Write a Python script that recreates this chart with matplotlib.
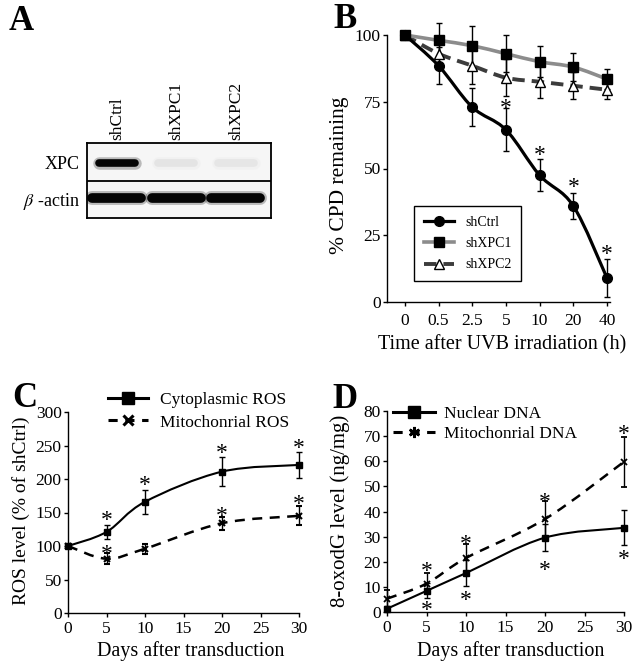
import numpy as np
import matplotlib
matplotlib.use('Agg')
import matplotlib.pyplot as plt
from matplotlib.path import Path
from matplotlib.patches import PathPatch
from matplotlib.lines import Line2D
from matplotlib.transforms import offset_copy

plt.rcParams['font.family'] = 'Liberation Serif'
plt.rcParams['mathtext.fontset'] = 'stix'

# panel A - western blot
lanes = ['shCtrl', 'shXPC1', 'shXPC2']
blot_rows = ['XPC', r'$\beta$ -actin']
xpc_band = [1.0, 0.06, 0.05]
actin_band = [1.0, 1.0, 1.0]

# panel B - CPD repair
uv_time = ['0', '0.5', '2.5', '5', '10', '20', '40']
cpd_ctrl = [100, 88.5, 73, 64.5, 47.5, 36, 9]
cpd_ctrl_err = [0, 7, 7.2, 8, 6, 4.8, 7]
cpd_xpc1 = [100, 98, 96, 93, 90, 88, 83.5]
cpd_xpc1_err = [0, 6.6, 7.3, 7, 5.7, 5.4, 3.8]
cpd_xpc2 = [100, 93, 88.5, 84, 82.5, 81, 79.5]
cpd_xpc2_err = [0, 5, 7, 7, 6, 5, 3.5]
cpd_star_idx = [3, 4, 5, 6]
cpd_star_y = [74.5, 57, 45, 20]

# panel C - ROS
days = [0, 5, 10, 20, 30]
ros_cyto = [100, 121, 166, 211, 221]
ros_cyto_err = [0, 11, 18, 22, 19.5]
ros_mito = [100, 81, 96, 134, 145]
ros_mito_err = [0, 8, 7.5, 9.5, 14]
ros_star_cyto = [None, 146, 199, 246, 254]
ros_star_mito = [None, 96, None, 152, 171]

# panel D - 8-oxodG
oxo_nuc = [1.3, 8.4, 15.5, 29.6, 33.5]
oxo_nuc_err = [1, 3, 5.3, 5.3, 7]
oxo_mito = [5.3, 11.3, 21.5, 37, 59.8]
oxo_mito_err = [3.5, 4.3, 5.5, 7, 10]
oxo_star_nuc = [None, 2.7, 6.9, 18.6, 23]
oxo_star_mito = [None, 18.3, 29.2, 46, 72.7]

W, H = 641, 667
fig = plt.figure(figsize=(W / 100, H / 100), dpi=100)


def px_axes(x0, y0, x1, y1):
    return fig.add_axes([x0 / W, 1 - y1 / H, (x1 - x0) / W, (y1 - y0) / H])


def smooth_line(ax, x, y, **kw):
    x = np.asarray(x, float)
    y = np.asarray(y, float)
    pts = np.column_stack([x, y])
    verts = [pts[0]]
    codes = [Path.MOVETO]
    n = len(pts)
    for i in range(n - 1):
        p0 = pts[max(i - 1, 0)]
        p1 = pts[i]
        p2 = pts[i + 1]
        p3 = pts[min(i + 2, n - 1)]
        verts += [p1 + (p2 - p0) / 6, p2 - (p3 - p1) / 6, p2]
        codes += [Path.CURVE4] * 3
    ax.add_patch(PathPatch(Path(verts, codes), fill=False, **kw))


def style_axes(ax):
    for s in ['top', 'right']:
        ax.spines[s].set_visible(False)
    for s in ['left', 'bottom']:
        ax.spines[s].set_linewidth(1.0)
    ax.tick_params(direction='out', length=3, width=1.0, labelsize=12.5, pad=1.5)


def stars(ax, x, y, fs=17):
    tr = offset_copy(ax.transData, fig=fig, y=-0.47 * fs, units='points')
    for xi, yi in zip(x, y):
        if yi is not None:
            ax.text(xi, yi, '*', ha='center', va='baseline', fontsize=fs,
                    transform=tr, clip_on=False)


# ---------- A ----------
axA = px_axes(87, 143, 271, 218)
axA.set_facecolor('#f6f6f6')
axA.set_xlim(-0.5, 2.59)
axA.set_ylim(1.55, -0.56)
for s in axA.spines.values():
    s.set_linewidth(1.3)
axA.axhline(0.5, color='black', lw=1.3)
for i, v in enumerate(xpc_band):
    g = 0.95 - 0.93 * v
    axA.plot([i - 0.3, i + 0.3], [0, 0], color=str(g), lw=9, alpha=0.25,
             solid_capstyle='round')
    axA.plot([i - 0.3, i + 0.3], [0, 0], color=str(g), lw=5.5,
             solid_capstyle='round')
for i, v in enumerate(actin_band):
    g = 0.95 - 0.93 * v
    axA.plot([i - 0.41, i + 0.41], [1, 1], color=str(g), lw=10, alpha=0.25,
             solid_capstyle='round')
    axA.plot([i - 0.41, i + 0.41], [1, 1], color=str(g), lw=7,
             solid_capstyle='round')
axA.xaxis.tick_top()
axA.set_xticks(range(len(lanes)), lanes, rotation=90, fontsize=12.5)
axA.set_yticks([0, 1], blot_rows, fontsize=13)
axA.tick_params(axis='x', length=0, pad=2)
axA.tick_params(axis='y', length=0, pad=5)

# ---------- B ----------
axB = px_axes(387, 35, 610, 302)
style_axes(axB)
pos = np.arange(len(uv_time))
smooth_line(axB, pos, cpd_xpc2, color='#3c3c3c', lw=2.8,
            linestyle=(0, (3.2, 1.8)), clip_on=False)
smooth_line(axB, pos, cpd_xpc1, color='#8c8c8c', lw=2.6, clip_on=False)
smooth_line(axB, pos, cpd_ctrl, color='black', lw=2.3, clip_on=False)
axB.errorbar(pos, cpd_xpc2, yerr=cpd_xpc2_err, fmt='^', ms=7.5, mfc='white',
             mec='black', mew=1.0, ecolor='black', elinewidth=1.0, capsize=2.5,
             clip_on=False)
axB.errorbar(pos, cpd_ctrl, yerr=cpd_ctrl_err, fmt='o', ms=7, color='black',
             elinewidth=1.0, capsize=2.5, clip_on=False)
axB.errorbar(pos, cpd_xpc1, yerr=cpd_xpc1_err, fmt='s', ms=6.5, color='black',
             elinewidth=1.0, capsize=2.5, clip_on=False)
stars(axB, [pos[i] for i in cpd_star_idx], cpd_star_y)
axB.set_xlim(-0.53, 6.09)
axB.set_ylim(0, 100)
axB.set_xticks(pos, uv_time)
axB.set_yticks([0, 25, 50, 75, 100])
axB.tick_params(axis='x', pad=5)
axB.set_xlabel('Time after UVB irradiation (h)', fontsize=14.5)
axB.xaxis.set_label_coords(0.518, -0.125)
axB.set_ylabel('% CPD remaining', fontsize=15.5)
axB.yaxis.set_label_coords(-0.17, 0.476)
hB = [Line2D([], [], color='black', lw=2.3, marker='o', ms=7),
      Line2D([], [], color='#8c8c8c', lw=2.6, marker='s', ms=6.5, mfc='black',
             mec='black'),
      Line2D([], [], color='#3c3c3c', lw=2.8, ls=(0, (3.2, 1.8)), marker='^',
             ms=7.5, mfc='white', mec='black', mew=1.0)]
legB = axB.legend(hB, lanes, loc='upper left', fontsize=10,
                  bbox_to_anchor=(414 / W, 1 - 206 / H),
                  bbox_transform=fig.transFigure, borderaxespad=0,
                  fancybox=False, edgecolor='black', framealpha=1,
                  handlelength=2.2, handletextpad=0.8, labelspacing=0.6,
                  borderpad=0.7)
legB.get_frame().set_linewidth(1.0)

# ---------- C ----------
axC = px_axes(68, 412, 299, 613)
style_axes(axC)
smooth_line(axC, days, ros_cyto, color='black', lw=1.5)
smooth_line(axC, days, ros_mito, color='black', lw=1.8,
            linestyle=(0, (4, 3)))
axC.errorbar(days, ros_cyto, yerr=ros_cyto_err, fmt='s', ms=5, color='black',
             elinewidth=1.0, capsize=2.5, clip_on=False)
axC.errorbar(days, ros_mito, yerr=ros_mito_err, fmt='x', ms=5, mew=1.5,
             color='black', elinewidth=1.0, capsize=2.5, clip_on=False)
stars(axC, days, ros_star_cyto)
stars(axC, days, ros_star_mito)
axC.set_xlim(0, 30)
axC.set_ylim(0, 300)
axC.set_xticks(range(0, 31, 5))
axC.set_yticks(range(0, 301, 50))
axC.tick_params(axis='x', pad=3)
axC.set_xlabel('Days after transduction', fontsize=14.5)
axC.xaxis.set_label_coords(0.532, -0.14)
axC.set_ylabel('ROS level (% of shCtrl)', fontsize=14)
axC.yaxis.set_label_coords(-0.165, 0.51)
hC = [Line2D([], [], color='black', lw=2.2, marker='s', ms=8),
      Line2D([], [], color='black', lw=2.2, ls=(0, (3, 2.5)), marker='x',
             ms=7, mew=2.2)]
axC.legend(hC, ['Cytoplasmic ROS', 'Mitochonrial ROS'], loc='upper left',
           fontsize=12.5, bbox_to_anchor=(108 / W, 1 - 392 / H),
           bbox_transform=fig.transFigure, borderaxespad=0, borderpad=0,
           frameon=False, handlelength=2.3, handletextpad=0.7,
           labelspacing=0.36)

# ---------- D ----------
axD = px_axes(387, 411, 624, 612)
style_axes(axD)
smooth_line(axD, days, oxo_nuc, color='black', lw=1.5)
smooth_line(axD, days, oxo_mito, color='black', lw=1.8,
            linestyle=(0, (4, 3)))
axD.errorbar(days, oxo_nuc, yerr=oxo_nuc_err, fmt='s', ms=5, color='black',
             elinewidth=1.0, capsize=2.5, clip_on=False)
axD.errorbar(days, oxo_mito, yerr=oxo_mito_err, fmt='x', ms=5, mew=1.3,
             color='black', elinewidth=1.0, capsize=2.5, clip_on=False)
stars(axD, days, oxo_star_nuc)
stars(axD, days, oxo_star_mito)
axD.set_xlim(0, 30)
axD.set_ylim(0, 80)
axD.set_xticks(range(0, 31, 5))
axD.set_yticks(range(0, 81, 10))
axD.tick_params(axis='x', pad=3)
axD.set_xlabel('Days after transduction', fontsize=14.5)
axD.xaxis.set_label_coords(0.523, -0.145)
axD.set_ylabel('8-oxodG level (ng/mg)', fontsize=15)
axD.yaxis.set_label_coords(-0.156, 0.505)
hD = [Line2D([], [], color='black', lw=2.2, marker='s', ms=8),
      Line2D([], [], color='black', lw=2.2, ls=(0, (3, 2.5)),
             marker=(6, 2, 0), ms=8, mew=1.8)]
axD.legend(hD, ['Nuclear DNA', 'Mitochonrial DNA'], loc='upper left',
           fontsize=12.5, bbox_to_anchor=(393 / W, 1 - 406 / H),
           bbox_transform=fig.transFigure, borderaxespad=0, borderpad=0,
           frameon=False, handlelength=2.4, handletextpad=0.55,
           labelspacing=0.24)

# panel letters
for lbl, x, y in [('A', 9, 30), ('B', 333, 28), ('C', 12, 407), ('D', 332, 408)]:
    fig.text(x / W, 1 - y / H, lbl, fontsize=25, fontweight='bold',
             ha='left', va='baseline')

fig.savefig('out.png', dpi=100)
